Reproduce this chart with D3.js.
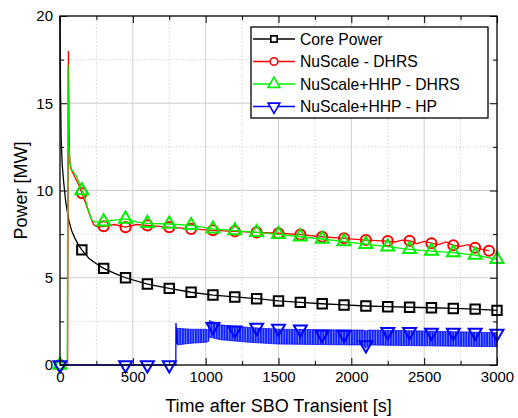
<!DOCTYPE html>
<html>
<head>
<meta charset="utf-8">
<script src="https://cdn.jsdelivr.net/npm/d3@7"></script>
<style>
  body { margin: 0; background: #fff; }
  svg { font-family: "Liberation Sans", Arial, sans-serif; }
</style>
</head>
<body>
<div id="chart"></div>
<script>
// ---- data ----
const xTicks = [0, 500, 1000, 1500, 2000, 2500, 3000]
const xMinor = [250, 750, 1250, 1750, 2250, 2750]
const yTicks = [0, 5, 10, 15, 20]
const yMinor = [2.5, 7.5, 12.5, 17.5]

const seriesNames = ["Core Power", "NuScale - DHRS", "NuScale+HHP - DHRS", "NuScale+HHP - HP"]

const coreTime = [0, 3, 8, 15, 25, 40, 60, 80, 100, 125, 150, 200, 250, 300, 375, 450, 600, 750, 900, 1050, 1200, 1350, 1500, 1650, 1800, 1950, 2100, 2250, 2400, 2550, 2700, 2850, 3000]
const corePower = [20, 16, 13, 11.5, 10.5, 9.3, 8.3, 7.7, 7.3, 6.9, 6.6, 6.1, 5.8, 5.54, 5.25, 5.0, 4.64, 4.39, 4.17, 4.01, 3.9, 3.8, 3.67, 3.59, 3.51, 3.44, 3.38, 3.34, 3.31, 3.28, 3.24, 3.2, 3.13]
const coreMarks = [150, 300, 450, 600, 750, 900, 1050, 1200, 1350, 1500, 1650, 1800, 1950, 2100, 2250, 2400, 2550, 2700, 2850, 3000]

const redTime = [0, 52, 58, 62, 66, 72, 100, 130, 150, 175, 200, 230, 260, 300, 375, 450, 525, 600, 750, 900, 1050, 1200, 1350, 1500, 1650, 1800, 1950, 2100, 2250, 2300, 2350, 2400, 2450, 2500, 2550, 2600, 2650, 2700, 2750, 2800, 2850, 2900, 2945]
const redPower = [0, 0, 18.0, 13.5, 12.0, 11.3, 10.8, 10.3, 9.85, 9.3, 8.7, 8.05, 7.9, 7.95, 8.05, 7.9, 8.05, 8.0, 7.9, 7.8, 7.72, 7.66, 7.6, 7.55, 7.47, 7.35, 7.26, 7.16, 7.1, 7.05, 7.15, 7.12, 6.95, 7.08, 6.98, 6.9, 7.05, 6.86, 6.8, 6.9, 6.72, 6.62, 6.55]
const redMarks = [0, 150, 300, 450, 600, 750, 900, 1050, 1200, 1350, 1500, 1650, 1800, 1950, 2100, 2250, 2400, 2550, 2700, 2850, 2945]

const greenTime = [0, 50, 55, 60, 68, 80, 115, 150, 160, 190, 217, 240, 300, 375, 450, 525, 600, 750, 900, 1050, 1200, 1350, 1500, 1650, 1800, 1950, 2100, 2250, 2400, 2550, 2700, 2850, 3000]
const greenPower = [0, 0, 17.2, 12.7, 11.6, 11.2, 10.8, 10.0, 9.9, 9.0, 8.3, 8.2, 8.21, 8.3, 8.37, 8.2, 8.12, 8.08, 8.0, 7.8, 7.7, 7.6, 7.49, 7.35, 7.22, 7.07, 6.92, 6.78, 6.63, 6.53, 6.44, 6.3, 6.06]
const greenMarks = [0, 150, 300, 450, 600, 750, 900, 1050, 1200, 1350, 1500, 1650, 1800, 1950, 2100, 2250, 2400, 2550, 2700, 2850, 3000]

// heat pipe power: zero, then a jump, then a dense oscillation (kept as its envelope)
const blueTime = [0, 795, 796, 805]
const bluePower = [0, 0, 2.4, 1.2]
const blueBandTime = [805, 900, 1000, 1020, 1025, 1100, 1300, 1500, 2000, 2080, 2100, 2120, 2500, 3000]
const blueHigh = [2.1, 2.05, 2.05, 2.0, 2.55, 2.3, 2.15, 2.05, 2.0, 2.0, 1.95, 2.0, 1.95, 1.85]
const blueLow = [1.15, 1.25, 1.3, 1.35, 1.6, 1.45, 1.3, 1.2, 1.15, 1.15, 0.95, 1.15, 1.1, 1.05]
const blueMarkTime = [0, 450, 600, 750, 1050, 1200, 1350, 1500, 1650, 1800, 1950, 2100, 2250, 2400, 2550, 2700, 2850, 3000]
const blueMarkPower = [0, 0, 0, 0, 2.2, 2.0, 2.15, 2.1, 2.05, 1.75, 1.75, 1.15, 1.9, 1.9, 1.87, 1.87, 1.87, 1.8]

// ---- layout ----
width = 518
height = 418
margin = ({top: 16, right: 21, bottom: 53, left: 60})

x = d3.scaleLinear().domain([0, 3000]).range([margin.left, width - margin.right])
y = d3.scaleLinear().domain([0, 20]).range([height - margin.bottom, margin.top])

var svg = d3.select("#chart").append("svg")
  .attr("width", width)
  .attr("height", height)

// vertical hatch to mimic the dense oscillation of the heat pipe trace
const pat = svg.append("defs").append("pattern")
  .attr("id", "osc")
  .attr("patternUnits", "userSpaceOnUse")
  .attr("width", 2.6).attr("height", 10)
pat.append("rect").attr("width", 2.6).attr("height", 10).attr("fill", "#7f8cff")
pat.append("rect").attr("width", 1.7).attr("height", 10).attr("fill", "#0a1eff")

// grid
const grid = svg.append("g")
grid.selectAll(".gx").data(xTicks.slice(1, -1)).enter().append("line")
  .attr("x1", d => x(d)).attr("x2", d => x(d))
  .attr("y1", y(0)).attr("y2", y(20))
  .attr("stroke", "#cfcfcf").attr("stroke-width", 1)
grid.selectAll(".gy").data(yTicks.slice(1, -1)).enter().append("line")
  .attr("x1", x(0)).attr("x2", x(3000))
  .attr("y1", d => y(d)).attr("y2", d => y(d))
  .attr("stroke", "#cfcfcf").attr("stroke-width", 1)
grid.selectAll(".mx").data(xMinor).enter().append("line")
  .attr("x1", d => x(d)).attr("x2", d => x(d))
  .attr("y1", y(0)).attr("y2", y(20))
  .attr("stroke", "#d4d4d4").attr("stroke-dasharray", "1.5,2")
grid.selectAll(".my").data(yMinor).enter().append("line")
  .attr("x1", x(0)).attr("x2", x(3000))
  .attr("y1", d => y(d)).attr("y2", d => y(d))
  .attr("stroke", "#d4d4d4").attr("stroke-dasharray", "1.5,2")

// series
const line = d3.line().x(d => x(d[0])).y(d => y(d[1]))
const zip = (a, b) => a.map((t, i) => [t, b[i]])

function symbolPath(kind, size) {
  if (kind === "square") return d3.symbol(d3.symbolSquare, size)()
  if (kind === "circle") return d3.symbol(d3.symbolCircle, size)()
  return d3.symbol(d3.symbolTriangle, size)()
}

function drawSeries(pts, marks, color, kind, size) {
  svg.append("path")
    .datum(pts)
    .attr("fill", "none")
    .attr("stroke", color)
    .attr("stroke-width", 1.3)
    .attr("d", line)
  svg.append("g").selectAll("path").data(marks).enter().append("path")
    .attr("d", symbolPath(kind, size))
    .attr("transform", d => `translate(${x(d[0])},${y(d[1])})` + (kind === "down" ? " rotate(180)" : ""))
    .attr("fill", "none")
    .attr("stroke", color)
    .attr("stroke-width", 2)
}

const corePts = zip(coreTime, corePower)
drawSeries(corePts, corePts.filter(d => coreMarks.includes(d[0])), "#000000", "square", 88)

const redPts = zip(redTime, redPower)
drawSeries(redPts, redPts.filter(d => redMarks.includes(d[0])), "#ff0000", "circle", 80)

const greenPts = zip(greenTime, greenPower)
drawSeries(greenPts, greenPts.filter(d => greenMarks.includes(d[0])), "#00f000", "up", 72)

// blue: flat part + jump, then the oscillation envelope
const band = d3.area()
  .x(d => x(d[0]))
  .y0(d => y(d[2]))
  .y1(d => y(d[1]))
svg.append("path")
  .datum(blueBandTime.map((t, i) => [t, blueHigh[i], blueLow[i]]))
  .attr("fill", "url(#osc)")
  .attr("stroke", "#0000ff")
  .attr("stroke-width", 0.7)
  .attr("d", band)
drawSeries(zip(blueTime, bluePower), zip(blueMarkTime, blueMarkPower), "#0000ff", "down", 72)

// frame
svg.append("rect")
  .attr("x", x(0)).attr("y", y(20))
  .attr("width", x(3000) - x(0)).attr("height", y(0) - y(20))
  .attr("fill", "none").attr("stroke", "#000").attr("stroke-width", 1.3)

// axes (ticks inward)
const fmt = d3.format("d")
svg.append("g")
  .attr("transform", `translate(0,${y(0)})`)
  .call(d3.axisBottom(x).tickValues(xTicks).tickSize(-7).tickPadding(6).tickFormat(fmt))
  .call(g => g.select(".domain").remove())
  .selectAll("text").style("font-size", "15px").attr("fill", "#000")
svg.append("g")
  .attr("transform", `translate(0,${y(0)})`)
  .call(d3.axisBottom(x).tickValues(xMinor).tickSize(-4).tickFormat(""))
  .call(g => g.select(".domain").remove())
svg.append("g")
  .attr("transform", `translate(0,${y(20)})`)
  .call(d3.axisTop(x).tickValues(xTicks).tickSize(-7).tickFormat(""))
  .call(g => g.select(".domain").remove())
svg.append("g")
  .attr("transform", `translate(0,${y(20)})`)
  .call(d3.axisTop(x).tickValues(xMinor).tickSize(-4).tickFormat(""))
  .call(g => g.select(".domain").remove())

svg.append("g")
  .attr("transform", `translate(${x(0)},0)`)
  .call(d3.axisLeft(y).tickValues(yTicks).tickSize(-7).tickPadding(7).tickFormat(fmt))
  .call(g => g.select(".domain").remove())
  .selectAll("text").style("font-size", "15px").attr("fill", "#000")
svg.append("g")
  .attr("transform", `translate(${x(0)},0)`)
  .call(d3.axisLeft(y).tickValues(yMinor).tickSize(-4).tickFormat(""))
  .call(g => g.select(".domain").remove())
svg.append("g")
  .attr("transform", `translate(${x(3000)},0)`)
  .call(d3.axisRight(y).tickValues(yTicks).tickSize(-7).tickFormat(""))
  .call(g => g.select(".domain").remove())
svg.append("g")
  .attr("transform", `translate(${x(3000)},0)`)
  .call(d3.axisRight(y).tickValues(yMinor).tickSize(-4).tickFormat(""))
  .call(g => g.select(".domain").remove())

// axis titles
svg.append("text")
  .attr("x", (x(0) + x(3000)) / 2)
  .attr("y", 412)
  .attr("text-anchor", "middle")
  .style("font-size", "18px")
  .text("Time after SBO Transient [s]")
svg.append("text")
  .attr("transform", `translate(27,${(y(0) + y(20)) / 2}) rotate(-90)`)
  .attr("text-anchor", "middle")
  .style("font-size", "18px")
  .text("Power [MW]")

// legend
const legendColors = ["#000000", "#ff0000", "#00f000", "#0000ff"]
const legendKinds = ["square", "circle", "up", "down"]
const legendSizes = [40, 45, 60, 60]
const lg = svg.append("g").attr("transform", "translate(251,27)")
lg.append("rect")
  .attr("width", 237).attr("height", 91)
  .attr("fill", "#fff").attr("stroke", "#000").attr("stroke-width", 1.3)
const entry = lg.selectAll(".entry").data(seriesNames).enter().append("g")
  .attr("transform", (d, i) => `translate(0,${12 + i * 22.5})`)
entry.append("line")
  .attr("x1", 2).attr("x2", 44)
  .attr("stroke", (d, i) => legendColors[i]).attr("stroke-width", 1.3)
entry.append("path")
  .attr("d", (d, i) => symbolPath(legendKinds[i], legendSizes[i]))
  .attr("transform", (d, i) => "translate(23,0)" + (legendKinds[i] === "down" ? " rotate(180)" : ""))
  .attr("fill", "#fff")
  .attr("stroke", (d, i) => legendColors[i])
  .attr("stroke-width", 1.6)
entry.append("text")
  .attr("x", 49)
  .attr("dy", "0.35em")
  .style("font-size", "15.7px")
  .text(d => d)
</script>
</body>
</html>
